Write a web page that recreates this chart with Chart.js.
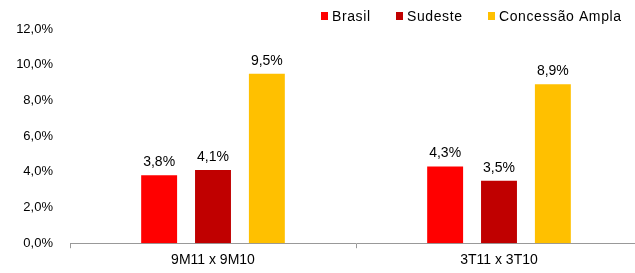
<!DOCTYPE html>
<html>
<head>
<meta charset="utf-8">
<script src="https://cdn.jsdelivr.net/npm/chart.js@4.4.0/dist/chart.umd.min.js"></script>
<style>
  body { margin: 0; background: #fff; overflow: hidden; }
  #wrap { width: 645px; height: 273px; }
</style>
</head>
<body>
<div id="wrap"><canvas id="chart"></canvas></div>
<script>
const categories = ['9M11 x 9M10', '3T11 x 3T10'];
const brasil = [3.8, 4.3];
const sudeste = [4.1, 3.5];
const ampla = [9.5, 8.9];
const seriesNames = ['Brasil', 'Sudeste', 'Concessão Ampla'];
const seriesColors = ['#FF0000', '#C00000', '#FFC000'];
const yTicks = [0, 2, 4, 6, 8, 10, 12];

const fmt = v => v.toFixed(1).replace('.', ',') + '%';
const FONT = 'Arial, "Liberation Sans", sans-serif';

// value labels over the bars
const barLabels = {
  id: 'barLabels',
  afterDatasetsDraw(chart) {
    const ctx = chart.ctx;
    ctx.save();
    ctx.fillStyle = '#000';
    ctx.font = '14px ' + FONT;
    ctx.textAlign = 'center';
    ctx.textBaseline = 'alphabetic';
    chart.data.datasets.forEach((ds, i) => {
      chart.getDatasetMeta(i).data.forEach((bar, j) => {
        ctx.fillText(fmt(ds.data[j]), bar.x, bar.y - 9);
      });
    });
    ctx.restore();
  }
};

// legend drawn by hand so it can sit where the original puts it
const legendX = [321, 396, 488];
const topLegend = {
  id: 'topLegend',
  afterDraw(chart) {
    const ctx = chart.ctx;
    ctx.save();
    ctx.font = '14px ' + FONT;
    ctx.letterSpacing = '0.6px';
    ctx.textBaseline = 'middle';
    const y = 16;
    seriesNames.forEach((name, i) => {
      const x = legendX[i];
      ctx.fillStyle = seriesColors[i];
      ctx.fillRect(x, y - 4, 7, 8);
      ctx.fillStyle = '#000';
      ctx.fillText(name, x + 11, y + 1);
    });
    ctx.restore();
  }
};

new Chart(document.getElementById('chart'), {
  type: 'bar',
  data: {
    labels: categories,
    datasets: [
      { label: seriesNames[0], data: brasil, backgroundColor: seriesColors[0] },
      { label: seriesNames[1], data: sudeste, backgroundColor: seriesColors[1] },
      { label: seriesNames[2], data: ampla, backgroundColor: seriesColors[2] }
    ]
  },
  options: {
    responsive: true,
    maintainAspectRatio: false,
    animation: false,
    datasets: { bar: { barPercentage: 0.667, categoryPercentage: 0.565 } },
    layout: { padding: { top: 29, right: 3, left: 0, bottom: 0 } },
    plugins: { legend: { display: false }, tooltip: { enabled: false } },
    scales: {
      x: {
        grid: { display: true, drawOnChartArea: false, drawTicks: true, tickLength: 5, color: '#999', offset: true },
        border: { display: true, color: '#999', width: 1 },
        ticks: { color: '#000', font: { size: 14, family: FONT }, padding: 4 }
      },
      y: {
        min: 0, max: 12,
        afterBuildTicks: s => { s.ticks = yTicks.map(v => ({ value: v })); },
        afterFit: s => { s.width = 70; },
        grid: { display: false, drawTicks: false },
        border: { display: false },
        ticks: { color: '#000', font: { size: 13, family: FONT }, padding: 17, callback: v => fmt(v) }
      }
    }
  },
  plugins: [barLabels, topLegend]
});
</script>
</body>
</html>
